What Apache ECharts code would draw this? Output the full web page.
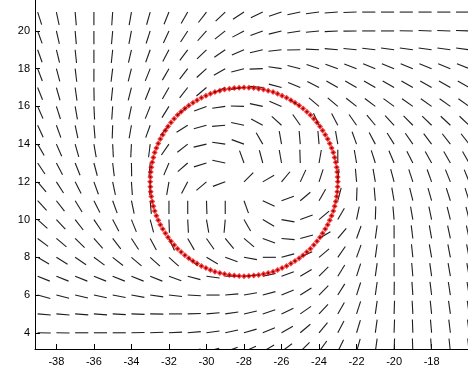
<!DOCTYPE html>
<html>
<head>
<meta charset="utf-8">
<script src="https://cdn.jsdelivr.net/npm/echarts@6/dist/echarts.min.js"></script>
<style>
html,body{margin:0;padding:0;background:#fff;}
#c{width:468px;height:372px;}
</style>
</head>
<body>
<div id="c"></div>
<script>
// grid columns (x) and rows (y) of the direction field
const gridX = [-39,-38,-37,-36,-35,-34,-33,-32,-31,-30,-29,-28,-27,-26,-25,-24,-23,-22,-21,-20,-19,-18,-17,-16];
const gridY = [21,20,19,18,17,16,15,14,13,12,11,10,9,8,7,6,5,4,3];

// direction of each segment (degrees, counter-clockwise from +x), one array per row
const dir21 = [-72,-78,-85,-90,-94,-100,-106,-112,-120,-128,-137,-147,-155,-162,-168,-173,-176,-178,180,180,180,180,180,180];
const dir20 = [-70,-77,-85,-90,-95,-101,-108,-115,-123,-132,-142,-152,-160,-166,-171,-174,-177,-179,180,180,179,178,178,178];
const dir19 = [-70,-76,-84,-90,-96,-103,-110,-118,-127,-136,-146,-157,-167,-174,-179,177,175,174,173,172,172,172,172,172];
const dir18 = [-69,-75,-83,-90,-97,-104,-112,-120,-128,-138,-150,-165,-178,172,166,162,160,159,158,158,158,158,158,158];
const dir17 = [-68,-74,-82,-89,-96,-104,-112,-120,-128,-140,-155,-172,175,165,158,153,150,150,150,150,150,150,150,150];
const dir16 = [-66,-72,-80,-87,-94,-102,-112,-122,-140,-160,-172,178,168,157,148,140,140,142,143,144,145,145,145,145];
const dir15 = [-65,-70,-78,-85,-92,-100,-110,-130,-148,-165,-175,168,152,138,125,115,118,125,130,133,135,136,137,137];
const dir14 = [-60,-66,-74,-80,-87,-93,-97,-125,-142,-167,172,160,120,100,95,95,100,110,118,122,125,127,128,128];
const dir13 = [-56,-62,-68,-75,-83,-89,-95,-113,-139,-163,168,110,105,100,92,80,90,100,108,113,117,119,120,120];
const dir12 = [-50,-57,-63,-70,-78,-86,-92,-100,-118,-140,-160,45,30,50,65,72,85,95,100,105,108,110,112,112];
const dir11 = [-47,-52,-58,-63,-70,-78,-85,-90,-90,-88,-90,-70,-25,20,40,60,75,88,95,100,104,106,108,108];
const dir10 = [-42,-47,-52,-56,-62,-68,-75,-88,-87,-80,-95,-60,-30,-10,20,40,60,78,88,95,100,102,104,104];
const dir9  = [-37,-40,-44,-48,-52,-57,-62,-65,-60,-55,-50,-40,-20,-5,15,30,50,70,82,90,97,100,102,102];
const dir8  = [-30,-32,-34,-36,-38,-40,-42,-42,-40,-30,-20,-10,0,15,25,40,55,70,82,90,96,100,101,101];
const dir7  = [-22,-22,-22,-22,-22,-22,-22,-20,-15,-8,0,5,12,20,30,45,58,72,82,90,95,98,100,100];
const dir6  = [-15,-14,-13,-12,-11,-10,-8,-6,-3,0,5,10,15,22,32,45,58,72,82,89,94,97,99,99];
const dir5  = [-5,-5,-4,-4,-3,-2,-1,0,2,5,8,13,18,25,35,47,60,72,82,88,93,96,98,98];
const dir4  = [-1,-1,0,0,0,1,2,3,5,8,12,16,22,30,40,50,62,73,82,88,92,95,97,97];
const dir3  = [0,0,1,2,3,4,6,8,11,15,19,24,30,37,45,54,64,74,82,88,92,94,96,96];
const dirRows = [dir21,dir20,dir19,dir18,dir17,dir16,dir15,dir14,dir13,dir12,dir11,dir10,dir9,dir8,dir7,dir6,dir5,dir4,dir3];

// boundary points (red markers)
const ringX = [-23.00,-23.01,-23.03,-23.06,-23.11,-23.17,-23.24,-23.33,-23.43,-23.54,-23.67,-23.81,-23.95,-24.11,-24.28,-24.46,-24.65,-24.85,-25.06,-25.28,-25.50,-25.73,-25.97,-26.21,-26.45,-26.71,-26.96,-27.22,-27.48,-27.74,
 -28.00,-28.26,-28.52,-28.78,-29.04,-29.29,-29.55,-29.79,-30.03,-30.27,-30.50,-30.72,-30.94,-31.15,-31.35,-31.54,-31.72,-31.89,-32.05,-32.19,-32.33,-32.46,-32.57,-32.67,-32.76,-32.83,-32.89,-32.94,-32.97,-32.99,
 -33.00,-32.99,-32.97,-32.94,-32.89,-32.83,-32.76,-32.67,-32.57,-32.46,-32.33,-32.19,-32.05,-31.89,-31.72,-31.54,-31.35,-31.15,-30.94,-30.72,-30.50,-30.27,-30.03,-29.79,-29.55,-29.29,-29.04,-28.78,-28.52,-28.26,
 -28.00,-27.74,-27.48,-27.22,-26.96,-26.71,-26.45,-26.21,-25.97,-25.73,-25.50,-25.28,-25.06,-24.85,-24.65,-24.46,-24.28,-24.11,-23.95,-23.81,-23.67,-23.54,-23.43,-23.33,-23.24,-23.17,-23.11,-23.06,-23.03,-23.01];
const ringY = [12.00,12.26,12.52,12.78,13.04,13.29,13.55,13.79,14.03,14.27,14.50,14.72,14.94,15.15,15.35,15.54,15.72,15.89,16.05,16.19,16.33,16.46,16.57,16.67,16.76,16.83,16.89,16.94,16.97,16.99,
 17.00,16.99,16.97,16.94,16.89,16.83,16.76,16.67,16.57,16.46,16.33,16.19,16.05,15.89,15.72,15.54,15.35,15.15,14.94,14.72,14.50,14.27,14.03,13.79,13.55,13.29,13.04,12.78,12.52,12.26,
 12.00,11.74,11.48,11.22,10.96,10.71,10.45,10.21,9.97,9.73,9.50,9.28,9.06,8.85,8.65,8.46,8.28,8.11,7.95,7.81,7.67,7.54,7.43,7.33,7.24,7.17,7.11,7.06,7.03,7.01,
 7.00,7.01,7.03,7.06,7.11,7.17,7.24,7.33,7.43,7.54,7.67,7.81,7.95,8.11,8.28,8.46,8.65,8.85,9.06,9.28,9.50,9.73,9.97,10.21,10.45,10.71,10.96,11.22,11.48,11.74];

const xTicks = [-38,-36,-34,-32,-30,-28,-26,-24,-22,-20,-18];
const yTicks = [4,6,8,10,12,14,16,18,20];

const SEG_LEN = 0.7;

const fieldData = [];
dirRows.forEach((row, r) => {
  row.forEach((a, c) => { fieldData.push([gridX[c], gridY[r], a]); });
});
const ringData = ringX.map((x, i) => [x, ringY[i]]);

const chart = echarts.init(document.getElementById('c'), null, {renderer: 'canvas'});
const axisFont = {color: '#000', fontFamily: 'Liberation Sans, Arial, sans-serif', fontSize: 11};
chart.setOption({
  animation: false,
  backgroundColor: '#fff',
  grid: {left: 35, right: 0, top: 0, bottom: 23, containLabel: false},
  xAxis: {
    type: 'value', min: -39.14, max: -16.06,
    axisLine: {show: true, onZero: false, lineStyle: {color: '#000', width: 1}},
    axisTick: {show: true, inside: true, length: 5, lineStyle: {color: '#000'}, customValues: xTicks},
    axisLabel: Object.assign({margin: 7, customValues: xTicks, formatter: v => String(v)}, axisFont),
    splitLine: {show: false}
  },
  yAxis: {
    type: 'value', min: 3.14, max: 21.64,
    axisLine: {show: true, onZero: false, lineStyle: {color: '#000', width: 1}},
    axisTick: {show: true, inside: true, length: 5, lineStyle: {color: '#000'}, customValues: yTicks},
    axisLabel: Object.assign({margin: 5, customValues: yTicks, formatter: v => String(v)}, axisFont),
    splitLine: {show: false}
  },
  series: [
    {
      type: 'custom',
      clip: true,
      data: fieldData,
      renderItem: function (params, api) {
        const x = api.value(0), y = api.value(1), a = api.value(2) * Math.PI / 180;
        const p0 = api.coord([x, y]);
        const p1 = api.coord([x + SEG_LEN * Math.cos(a), y + SEG_LEN * Math.sin(a)]);
        return {
          type: 'line',
          shape: {x1: p0[0], y1: p0[1], x2: p1[0], y2: p1[1]},
          style: {stroke: '#1e1e1e', lineWidth: 1.1}
        };
      },
      silent: true
    },
    {
      type: 'scatter', data: ringData, symbol: 'diamond', symbolSize: 6,
      itemStyle: {color: '#f00'}, silent: true, z: 3
    },
    {
      type: 'scatter', data: ringData, symbol: 'circle', symbolSize: 2,
      itemStyle: {color: '#400'}, silent: true, z: 4
    }
  ]
});
</script>
</body>
</html>
